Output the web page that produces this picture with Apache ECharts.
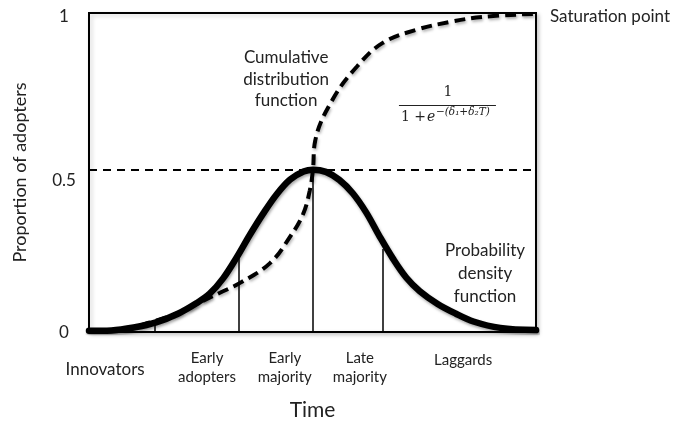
<!DOCTYPE html>
<html>
<head>
<meta charset="utf-8">
<script src="https://cdn.jsdelivr.net/npm/echarts@6/dist/echarts.min.js"></script>
<style>
html, body { margin: 0; padding: 0; background: #fff; }
#diffusion { width: 676px; height: 426px; }
</style>
</head>
<body>
<div id="diffusion"></div>
<script>
// time runs 0..100, proportion 0..1
var pdfPoints = [
  [0, 0.004], [5, 0.005], [10, 0.014], [15, 0.03], [20, 0.058],
  [24, 0.09], [27, 0.12], [30, 0.168], [33, 0.233], [36, 0.305],
  [39, 0.372], [42, 0.432], [45, 0.478], [48, 0.503], [50.1, 0.509],
  [53, 0.502], [56, 0.477], [59, 0.435], [62, 0.375], [65, 0.3],
  [68, 0.23], [71, 0.17], [74, 0.128], [78, 0.088], [82, 0.058],
  [86, 0.033], [92, 0.013], [100, 0.006]
];
var cdfPoints = [
  [0, 0.004], [6.9, 0.008], [13.6, 0.03], [20.4, 0.062], [24.8, 0.093],
  [29.3, 0.123], [33.8, 0.154], [40.5, 0.216], [45, 0.299], [47.9, 0.37],
  [49.4, 0.444], [50.1, 0.509], [50.6, 0.599], [54.6, 0.731], [60, 0.833],
  [65.8, 0.907], [73.4, 0.948], [80.8, 0.972], [88.1, 0.988], [99.3, 0.997]
];
var segmentCuts = [14.8, 33.6, 50.1, 65.8];
var segmentTops = [0.022, 0.26, 0.51, 0.26];
var halfLevel = 0.51;
var adopterGroups = ['Innovators', 'Early\nadopters', 'Early\nmajority', 'Late\nmajority', 'Laggards'];
var groupCenters = [3.6, 26.4, 43.8, 60.6, 83.7];

var font = 'Lato, "Open Sans", sans-serif';
var ink = '#222';

var chart = echarts.init(document.getElementById('diffusion'));

var dividers = segmentCuts.map(function (x, i) {
  return [{ coord: [x, 0] }, { coord: [x, segmentTops[i]] }];
});

chart.setOption({
  animation: false,
  grid: {
    left: 89, top: 13, right: 140, bottom: 89,
    show: true, borderColor: '#000', borderWidth: 2,
    backgroundColor: '#fff',
    shadowColor: 'rgba(0,0,0,0.2)', shadowBlur: 4, shadowOffsetX: 2, shadowOffsetY: 2
  },
  xAxis: {
    type: 'value', min: 0, max: 100,
    axisLine: { show: false }, axisTick: { show: false },
    axisLabel: { show: false }, splitLine: { show: false },
    name: 'Time', nameLocation: 'middle', nameGap: 68,
    nameTextStyle: { fontFamily: font, fontSize: 21, color: ink }
  },
  yAxis: {
    type: 'value', min: 0, max: 1, interval: 0.5,
    axisLine: { show: false }, axisTick: { show: false }, splitLine: { show: false },
    axisLabel: {
      fontFamily: font, fontSize: 17, color: ink, align: 'center', margin: 25,
      formatter: function (v) {
        if (v === 0) return '{lo|0}';
        if (v === 1) return '{hi|1}';
        return '{mid|0.5}';
      },
      rich: {
        lo: { fontFamily: font, fontSize: 17, color: ink, padding: [2, 0, 0, 0] },
        hi: { fontFamily: font, fontSize: 17, color: ink, padding: [8, 0, 0, 0] },
        mid: { fontFamily: font, fontSize: 17, color: ink, padding: [16, 0, 0, 0] }
      }
    },
    name: 'Proportion of adopters', nameLocation: 'middle', nameGap: 60, nameRotate: 90,
    nameTextStyle: { fontFamily: font, fontSize: 18, color: ink }
  },
  series: [
    {
      type: 'line', data: [], silent: true,
      markLine: {
        silent: true, symbol: 'none', label: { show: false },
        lineStyle: { color: '#000', width: 2, type: [8, 6] },
        data: [[{ coord: [0, halfLevel] }, { coord: [100, halfLevel] }]]
      }
    },
    {
      type: 'line', data: [], silent: true,
      markLine: {
        silent: true, symbol: 'none', label: { show: false },
        lineStyle: { color: '#000', width: 1.5, type: 'solid' },
        data: dividers
      }
    },
    {
      name: 'Cumulative', type: 'line', data: cdfPoints, smooth: 0.4,
      showSymbol: false, silent: true,
      lineStyle: {
        color: '#000', width: 4, type: [11, 6],
        shadowColor: 'rgba(0,0,0,0.3)', shadowBlur: 3, shadowOffsetX: 1, shadowOffsetY: 2
      }
    },
    {
      name: 'Density', type: 'line', data: pdfPoints, smooth: 0.35,
      showSymbol: false, silent: true,
      lineStyle: {
        color: '#000', width: 6.5, cap: 'round',
        shadowColor: 'rgba(0,0,0,0.35)', shadowBlur: 3, shadowOffsetX: 1, shadowOffsetY: 2
      }
    }
  ]
});

// texts placed off the axes' own scale
function px(x, y) { return chart.convertToPixel({ gridIndex: 0 }, [x, y]); }

var graphics = adopterGroups.map(function (name, i) {
  var p = px(groupCenters[i], 0);
  var twoLines = name.indexOf('\n') >= 0;
  return {
    type: 'text', x: p[0], y: p[1] + (twoLines ? 36 : (i === 0 ? 38 : 28)),
    style: {
      text: name, fontFamily: font, fontSize: i === 0 ? 17 : 15, fill: ink,
      align: 'center', verticalAlign: 'middle', lineHeight: 19
    }
  };
});

var cdfNote = px(44.1, 0.793);
graphics.push({
  type: 'text', x: cdfNote[0], y: cdfNote[1],
  style: {
    text: 'Cumulative\ndistribution\nfunction', fontFamily: font, fontSize: 17,
    fill: ink, align: 'center', verticalAlign: 'middle', lineHeight: 21.5
  }
});
var pdfNote = px(88.6, 0.182);
graphics.push({
  type: 'text', x: pdfNote[0], y: pdfNote[1],
  style: {
    text: 'Probability\ndensity\nfunction', fontFamily: font, fontSize: 17,
    fill: ink, align: 'center', verticalAlign: 'middle', lineHeight: 23
  }
});
var satNote = px(100, 1);
graphics.push({
  type: 'text', x: satNote[0] + 14, y: satNote[1] + 4,
  style: {
    text: 'Saturation point', fontFamily: font, fontSize: 17, fill: ink,
    align: 'left', verticalAlign: 'middle'
  }
});

// logistic formula
var f = px(80.3, 0.71);
var serif = '"DejaVu Serif", "Liberation Serif", serif';
graphics.push(
  { type: 'text', x: f[0], y: f[1] - 13,
    style: { text: '1', fontFamily: serif, fontSize: 14, fill: ink, align: 'center', verticalAlign: 'middle' } },
  { type: 'line', shape: { x1: f[0] - 49, y1: f[1], x2: f[0] + 48, y2: f[1] },
    style: { stroke: ink, lineWidth: 1 } },
  { type: 'text', x: f[0] - 47, y: f[1] + 12,
    style: { text: '1 + ', fontFamily: serif, fontSize: 14, fill: ink, align: 'left', verticalAlign: 'middle' } },
  { type: 'text', x: f[0] - 21, y: f[1] + 12,
    style: { text: 'e', fontFamily: serif, fontSize: 14, fontStyle: 'italic', fill: ink, align: 'left', verticalAlign: 'middle' } },
  { type: 'text', x: f[0] - 12, y: f[1] + 7,
    style: { text: '−(δ₁+δ₂T)', fontFamily: serif, fontSize: 10.5, fontStyle: 'italic', fill: ink, align: 'left', verticalAlign: 'middle' } }
);

chart.setOption({ graphic: graphics });
</script>
</body>
</html>
